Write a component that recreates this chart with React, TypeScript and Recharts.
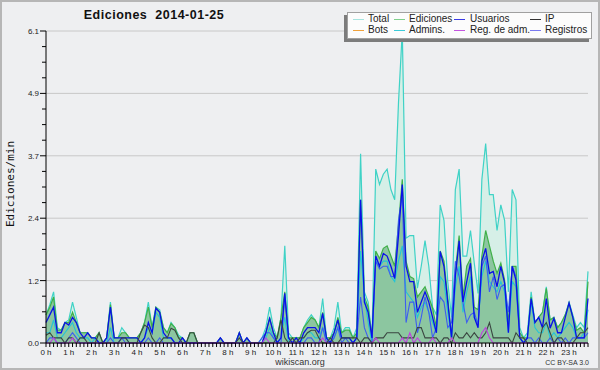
import { ComposedChart, Area, Line, XAxis, YAxis, CartesianGrid } from "recharts";

// 10-minute slots, values in edits per minute
const TOTAL = [
  0.55, 0.75, 1.0, 0.3, 0.25, 0.4, 0.45, 0.8, 0.5, 0.2, 0.2, 0.2, 0.1, 0.1, 0.2, 0.0, 0.1, 0.8, 0.1, 0.1, 0.3, 0.2, 0.1, 0.1,
  0.1, 0.2, 0.4, 0.8, 0.3, 0.7, 0.65, 0.3, 0.2, 0.4, 0.3, 0.15, 0.1, 0.0, 0.2, 0.2, 0.0, 0.0, 0.0, 0.0, 0.0, 0.0, 0.1, 0.0,
  0.0, 0.0, 0.0, 0.2, 0.0, 0.1, 0.0, 0.0, 0.0, 0.1, 0.3, 0.7, 0.3, 0.1, 0.5, 1.9, 0.2, 0.1, 0.1, 0.1, 0.3, 0.45, 0.55, 0.45,
  0.3, 0.87, 0.1, 0.1, 0.3, 0.8, 0.2, 0.3, 0.3, 0.1, 0.3, 3.7, 1.0, 0.8, 0.1, 3.4, 3.1, 3.3, 3.4, 3.0, 2.8, 4.7, 6.1, 2.05,
  2.1, 2.1, 1.07, 1.5, 2.0, 1.5, 0.7, 0.55, 2.7, 2.4, 1.2, 0.5, 3.0, 3.4, 1.7, 1.7, 2.2, 1.56, 0.97, 3.2, 3.9, 2.9, 2.9, 2.2,
  2.7, 2.4, 1.0, 3.0, 2.8, 0.3, 0.1, 0.2, 1.0, 0.4, 0.5, 0.6, 1.1, 0.45, 0.5, 0.3, 0.4, 0.55, 0.8, 0.55, 0.3, 0.4, 0.3, 1.4,
];
const EDITS = [
  0.55, 0.7, 0.9, 0.25, 0.25, 0.4, 0.4, 0.6, 0.4, 0.2, 0.2, 0.2, 0.1, 0.1, 0.2, 0.0, 0.1, 0.75, 0.1, 0.1, 0.2, 0.2, 0.1, 0.1,
  0.1, 0.2, 0.4, 0.7, 0.3, 0.7, 0.6, 0.3, 0.2, 0.38, 0.3, 0.1, 0.1, 0.0, 0.2, 0.2, 0.0, 0.0, 0.0, 0.0, 0.0, 0.0, 0.1, 0.0,
  0.0, 0.0, 0.0, 0.2, 0.0, 0.1, 0.0, 0.0, 0.0, 0.0, 0.2, 0.5, 0.2, 0.1, 0.5, 1.0, 0.1, 0.1, 0.1, 0.1, 0.3, 0.4, 0.5, 0.45,
  0.3, 0.6, 0.1, 0.1, 0.2, 0.5, 0.2, 0.25, 0.25, 0.1, 0.2, 2.8, 0.9, 0.7, 0.1, 1.8, 1.65, 1.85, 1.9, 1.7, 1.5, 2.3, 3.2, 1.6,
  1.3, 1.26, 0.9, 1.0, 1.1, 0.9, 0.68, 0.3, 1.8, 1.6, 0.9, 0.1, 1.4, 2.1, 0.9, 1.5, 1.65, 0.7, 0.65, 1.7, 2.2, 1.9, 1.6, 1.36,
  1.56, 1.23, 0.38, 1.5, 1.5, 0.2, 0.1, 0.1, 0.9, 0.4, 0.5, 0.6, 1.07, 0.45, 0.5, 0.3, 0.4, 0.55, 0.78, 0.5, 0.25, 0.3, 0.2, 1.2,
];
const USERS = [
  0.4, 0.55, 0.7, 0.2, 0.2, 0.4, 0.35, 0.5, 0.4, 0.2, 0.1, 0.2, 0.1, 0.1, 0.0, 0.0, 0.1, 0.7, 0.1, 0.1, 0.1, 0.1, 0.1, 0.1,
  0.1, 0.0, 0.1, 0.4, 0.2, 0.68, 0.6, 0.2, 0.1, 0.1, 0.0, 0.0, 0.1, 0.0, 0.0, 0.0, 0.0, 0.0, 0.0, 0.0, 0.0, 0.0, 0.1, 0.0,
  0.0, 0.0, 0.0, 0.2, 0.0, 0.1, 0.0, 0.0, 0.0, 0.0, 0.2, 0.48, 0.2, 0.0, 0.1, 0.97, 0.1, 0.0, 0.1, 0.0, 0.2, 0.3, 0.3, 0.3,
  0.2, 0.58, 0.1, 0.0, 0.2, 0.45, 0.1, 0.1, 0.1, 0.0, 0.1, 2.8, 0.8, 0.6, 0.1, 1.7, 1.5, 1.75, 1.7, 1.5, 1.26, 2.1, 3.1, 1.5,
  1.2, 1.2, 0.6, 0.8, 1.0, 0.8, 0.5, 0.2, 1.79, 1.5, 0.8, 0.1, 1.3, 2.0, 0.8, 1.2, 1.56, 0.5, 0.3, 1.6, 1.85, 1.36, 1.4, 1.1,
  1.5, 1.17, 0.2, 1.5, 1.23, 0.1, 0.0, 0.1, 0.87, 0.4, 0.5, 0.3, 0.87, 0.29, 0.48, 0.2, 0.2, 0.5, 0.78, 0.5, 0.1, 0.1, 0.1, 0.87,
];
const IP = [
  0.15, 0.2, 0.1, 0.1, 0.1, 0.0, 0.1, 0.1, 0.0, 0.1, 0.1, 0.0, 0.0, 0.0, 0.2, 0.0, 0.0, 0.0, 0.0, 0.0, 0.1, 0.1, 0.0, 0.0,
  0.0, 0.2, 0.35, 0.3, 0.1, 0.0, 0.0, 0.1, 0.1, 0.29, 0.25, 0.1, 0.0, 0.0, 0.2, 0.2, 0.0, 0.0, 0.0, 0.0, 0.0, 0.0, 0.0, 0.0,
  0.0, 0.0, 0.0, 0.1, 0.0, 0.0, 0.0, 0.0, 0.0, 0.0, 0.0, 0.0, 0.0, 0.1, 0.45, 0.1, 0.0, 0.1, 0.0, 0.1, 0.1, 0.2, 0.25, 0.25,
  0.1, 0.0, 0.0, 0.1, 0.0, 0.0, 0.1, 0.1, 0.1, 0.1, 0.1, 0.0, 0.1, 0.1, 0.0, 0.1, 0.1, 0.1, 0.2, 0.2, 0.2, 0.2, 0.1, 0.1,
  0.1, 0.1, 0.3, 0.3, 0.1, 0.1, 0.1, 0.1, 0.0, 0.1, 0.1, 0.0, 0.2, 0.1, 0.1, 0.2, 0.1, 0.2, 0.1, 0.1, 0.2, 0.4, 0.1, 0.1,
  0.1, 0.1, 0.1, 0.0, 0.2, 0.1, 0.1, 0.0, 0.0, 0.0, 0.0, 0.3, 0.4, 0.2, 0.0, 0.1, 0.1, 0.0, 0.0, 0.0, 0.1, 0.2, 0.2, 0.3,
];
const ADMINS = [
  0.2, 0.2, 0.45, 0.1, 0.1, 0.2, 0.3, 0.4, 0.2, 0.1, 0.1, 0.1, 0.0, 0.1, 0.0, 0.0, 0.0, 0.3, 0.0, 0.0, 0.1, 0.1, 0.0, 0.0,
  0.0, 0.0, 0.1, 0.3, 0.2, 0.6, 0.5, 0.1, 0.1, 0.1, 0.0, 0.0, 0.0, 0.0, 0.0, 0.0, 0.0, 0.0, 0.0, 0.0, 0.0, 0.0, 0.0, 0.0,
  0.0, 0.0, 0.0, 0.0, 0.0, 0.0, 0.0, 0.0, 0.0, 0.0, 0.1, 0.3, 0.1, 0.0, 0.1, 0.5, 0.0, 0.0, 0.0, 0.0, 0.1, 0.2, 0.2, 0.1,
  0.1, 0.3, 0.1, 0.0, 0.1, 0.3, 0.1, 0.1, 0.1, 0.0, 0.1, 1.8, 0.9, 0.4, 0.0, 1.6, 1.5, 1.6, 1.6, 1.3, 1.2, 1.6, 1.9, 1.0,
  0.9, 0.8, 0.5, 0.7, 0.8, 0.6, 0.4, 0.2, 1.3, 1.2, 0.6, 0.1, 1.1, 1.5, 0.6, 1.0, 1.3, 0.5, 0.4, 1.3, 1.6, 1.2, 1.1, 1.0,
  1.2, 1.0, 0.2, 1.2, 1.1, 0.1, 0.0, 0.1, 0.8, 0.3, 0.2, 0.2, 0.4, 0.1, 0.2, 0.1, 0.2, 0.3, 0.4, 0.3, 0.1, 0.1, 0.2, 0.65,
];
const LOGS = [
  0.0, 0.1, 0.1, 0.0, 0.0, 0.0, 0.1, 0.2, 0.1, 0.0, 0.0, 0.0, 0.0, 0.0, 0.0, 0.0, 0.0, 0.1, 0.0, 0.0, 0.1, 0.0, 0.0, 0.0,
  0.0, 0.0, 0.0, 0.1, 0.0, 0.0, 0.1, 0.0, 0.0, 0.0, 0.0, 0.0, 0.0, 0.0, 0.0, 0.0, 0.0, 0.0, 0.0, 0.0, 0.0, 0.0, 0.0, 0.0,
  0.0, 0.0, 0.0, 0.0, 0.0, 0.0, 0.0, 0.0, 0.0, 0.1, 0.2, 0.2, 0.1, 0.0, 0.0, 0.9, 0.1, 0.0, 0.0, 0.0, 0.0, 0.1, 0.1, 0.0,
  0.0, 0.3, 0.0, 0.0, 0.1, 0.3, 0.0, 0.1, 0.0, 0.0, 0.1, 0.9, 0.3, 0.1, 0.0, 1.6, 1.45, 1.5, 1.5, 1.3, 1.3, 2.4, 2.9, 0.4,
  0.8, 0.8, 0.2, 0.5, 0.9, 0.6, 0.1, 0.3, 0.9, 0.8, 0.3, 0.4, 1.6, 1.3, 0.8, 0.4, 0.55, 0.6, 0.35, 1.5, 1.7, 1.0, 1.3, 0.85,
  1.1, 1.15, 0.6, 1.5, 1.3, 0.1, 0.0, 0.1, 0.1, 0.0, 0.1, 0.0, 0.0, 0.1, 0.0, 0.1, 0.0, 0.1, 0.0, 0.1, 0.1, 0.1, 0.1, 0.2,
];
const ADMIN_LOGS = [
  0.0, 0.0, 0.1, 0.0, 0.0, 0.0, 0.0, 0.1, 0.0, 0.0, 0.0, 0.0, 0.0, 0.0, 0.0, 0.0, 0.0, 0.0, 0.0, 0.0, 0.0, 0.0, 0.0, 0.0,
  0.0, 0.0, 0.0, 0.0, 0.0, 0.0, 0.0, 0.0, 0.0, 0.0, 0.0, 0.0, 0.0, 0.0, 0.0, 0.0, 0.0, 0.0, 0.0, 0.0, 0.0, 0.0, 0.0, 0.0,
  0.0, 0.0, 0.0, 0.0, 0.0, 0.0, 0.0, 0.0, 0.0, 0.0, 0.1, 0.0, 0.0, 0.0, 0.0, 0.0, 0.0, 0.0, 0.0, 0.0, 0.0, 0.0, 0.0, 0.0,
  0.0, 0.1, 0.0, 0.0, 0.0, 0.0, 0.0, 0.0, 0.0, 0.0, 0.0, 0.0, 0.0, 0.0, 0.0, 0.1, 0.0, 0.0, 0.0, 0.0, 0.0, 0.0, 0.1, 0.0,
  0.2, 0.0, 0.1, 0.0, 0.0, 0.0, 0.1, 0.0, 0.0, 0.0, 0.0, 0.1, 0.0, 0.0, 0.0, 0.0, 0.0, 0.0, 0.0, 0.2, 0.3, 0.1, 0.0, 0.0,
  0.0, 0.0, 0.0, 0.0, 0.0, 0.0, 0.0, 0.0, 0.0, 0.0, 0.0, 0.0, 0.0, 0.0, 0.0, 0.0, 0.0, 0.0, 0.0, 0.0, 0.0, 0.0, 0.0, 0.0,
];

const HOURS = [
  "0 h", "1 h", "2 h", "3 h", "4 h", "5 h", "6 h", "7 h", "8 h", "9 h", "10 h", "11 h",
  "12 h", "13 h", "14 h", "15 h", "16 h", "17 h", "18 h", "19 h", "20 h", "21 h", "22 h", "23 h",
];
const Y_MAX = 6.1;
const Y_MAJOR = [0, 1.22, 2.44, 3.66, 4.88, 6.1];

const LEGEND = [
  { label: "Total", color: "#a6e4df" },
  { label: "Ediciones", color: "#7fcf8c" },
  { label: "Usuarios", color: "#3a3ae6" },
  { label: "IP", color: "#333333" },
  { label: "Bots", color: "#f0a23c" },
  { label: "Admins.", color: "#3ccbd8" },
  { label: "Reg. de adm.", color: "#c455e0" },
  { label: "Registros", color: "#7a7af0" },
];

const FONT = '"Liberation Sans", Arial, sans-serif';

const rows = TOTAL.map((t, i) => ({
  i,
  total: t,
  edits: EDITS[i],
  users: USERS[i],
  ip: IP[i],
  admins: ADMINS[i],
  logs: LOGS[i],
  adminLogs: ADMIN_LOGS[i],
}));

const xTicks = rows.map((r) => r.i);
const yTicks = Array.from({ length: 21 }, (_, k) => +((k * Y_MAX) / 20).toFixed(3));

function XTick({ x, y, payload }: any) {
  const i = payload.value;
  const label = i % 6 === 0 ? HOURS[i / 6] : null;
  return (
    <g>
      <line x1={x} x2={x} y1={y} y2={y + 4} stroke="#000" />
      {label && (
        <text x={x} y={y + 11.5} textAnchor="middle" fontSize={8} fontFamily={FONT} fill="#222">
          {label}
        </text>
      )}
    </g>
  );
}

function YTick({ x, y, payload }: any) {
  const major = Y_MAJOR.some((v) => Math.abs(v - payload.value) < 0.01);
  return (
    <g>
      <line x1={x - (major ? 6 : 4)} x2={x} y1={y} y2={y} stroke="#000" />
      {major && (
        <text x={x - 7} y={y + 3} textAnchor="end" fontSize={8} fontFamily={FONT} fill="#222">
          {payload.value.toFixed(1)}
        </text>
      )}
    </g>
  );
}

function ChartLegend() {
  const cols = [
    { line: 352, text: 367 },
    { line: 393, text: 408 },
    { line: 453, text: 469 },
    { line: 529, text: 544 },
  ];
  return (
    <div
      style={{
        position: "absolute",
        left: 347,
        top: 12,
        width: 245,
        height: 27,
        background: "#fcfcfc",
        border: "1px solid #a0a0a0",
        boxSizing: "border-box",
        boxShadow: "-3px 3px 0 #7c7c7c",
      }}
    >
      {LEGEND.map((item, k) => {
        const c = cols[k % 4];
        const top = k < 4 ? 6.3 : 17.3;
        return (
          <div key={item.label}>
            <div
              style={{
                position: "absolute",
                left: c.line - 347,
                top: top - 0.5,
                width: 11,
                height: 1.5,
                background: item.color,
              }}
            />
            <div
              style={{
                position: "absolute",
                left: c.text - 347,
                top: top - 6.5,
                fontSize: 10,
                lineHeight: "12px",
                whiteSpace: "nowrap",
                color: "#222",
              }}
            >
              {item.label}
            </div>
          </div>
        );
      })}
    </div>
  );
}

export default function App() {
  return (
    <div
      style={{
        position: "absolute",
        left: 0,
        top: 0,
        width: 600,
        height: 370,
        background: "#eeeff1",
        fontFamily: FONT,
        overflow: "hidden",
      }}
    >
      <ComposedChart width={600} height={370} data={rows} margin={{ top: 31, right: 12, bottom: 0, left: 0 }}>
        <CartesianGrid vertical={false} stroke="#c8c8c8" horizontalValues={Y_MAJOR} />
        <XAxis
          dataKey="i"
          type="number"
          domain={[0, 143]}
          ticks={xTicks}
          interval={0}
          height={27}
          tickSize={0}
          tickMargin={0}
          tickLine={false}
          axisLine={{ stroke: "#000" }}
          tick={<XTick />}
        />
        <YAxis
          type="number"
          domain={[0, Y_MAX]}
          ticks={yTicks}
          interval={0}
          width={46}
          tickSize={0}
          tickMargin={0}
          tickLine={false}
          axisLine={{ stroke: "#000" }}
          tick={<YTick />}
        />
        <Area type="linear" dataKey="total" stroke="#3fd2c6" strokeWidth={1.2} fill="#d6efe7" fillOpacity={1} dot={false} activeDot={false} isAnimationActive={false} />
        <Area type="linear" dataKey="edits" stroke="#3fb048" strokeWidth={1.2} fill="#8cc6a0" fillOpacity={1} dot={false} activeDot={false} isAnimationActive={false} />
        <Line type="linear" dataKey="admins" stroke="#22c4d8" strokeWidth={1.1} dot={false} activeDot={false} isAnimationActive={false} />
        <Line type="linear" dataKey="logs" stroke="#3d5ef0" strokeWidth={1.1} dot={false} activeDot={false} isAnimationActive={false} />
        <Line type="linear" dataKey="users" stroke="#0a10e8" strokeWidth={1.3} dot={false} activeDot={false} isAnimationActive={false} />
        <Line type="linear" dataKey="ip" stroke="#3a4640" strokeWidth={1.1} dot={false} activeDot={false} isAnimationActive={false} />
        <Line type="linear" dataKey="adminLogs" stroke="#c040e0" strokeWidth={1.1} dot={false} activeDot={false} isAnimationActive={false} />
      </ComposedChart>

      <div style={{ position: "absolute", left: 0, width: 308, top: 8, textAlign: "center", fontSize: 12.5, fontWeight: "bold", letterSpacing: 0.5, color: "#111" }}>
        Ediciones&nbsp;&nbsp;2014-01-25
      </div>
      <div
        style={{
          position: "absolute",
          left: 10,
          top: 184,
          transform: "translate(-50%, -50%) rotate(-90deg)",
          fontFamily: '"DejaVu Sans Mono", monospace',
          fontSize: 11,
          whiteSpace: "nowrap",
          color: "#111",
        }}
      >
        Ediciones/min
      </div>
      <ChartLegend />
      <div style={{ position: "absolute", left: 0, width: 600, top: 357, lineHeight: "10px", textAlign: "center", fontSize: 9, color: "#333" }}>
        wikiscan.org
      </div>
      <div style={{ position: "absolute", right: 11, top: 358, lineHeight: "9px", fontSize: 7, color: "#333" }}>CC BY-SA 3.0</div>
      <div style={{ position: "absolute", inset: 0, border: "2px solid #b6b6b6", pointerEvents: "none" }} />
    </div>
  );
}
